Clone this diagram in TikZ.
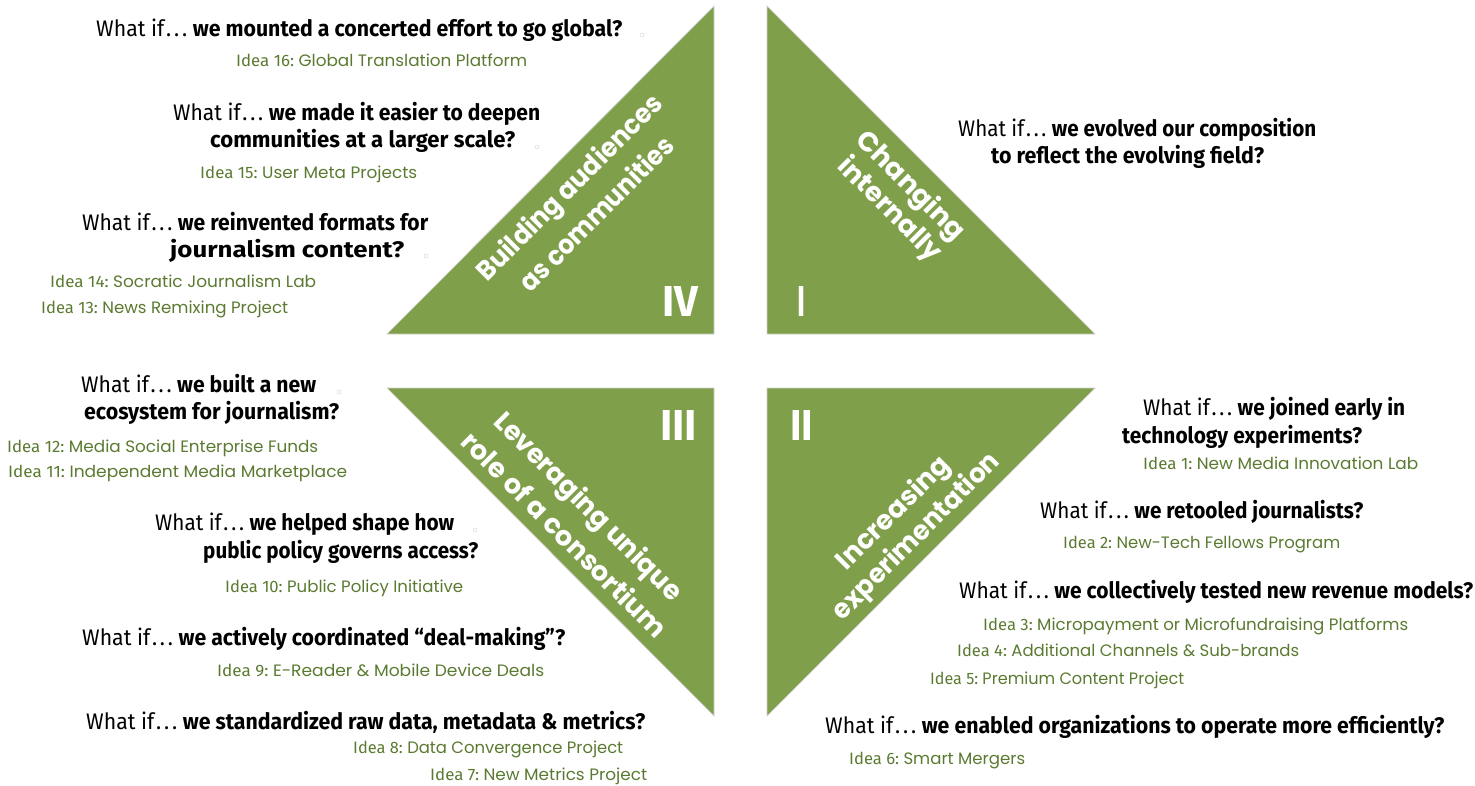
\documentclass[tikz,border=0pt]{standalone}
\usepackage{fontspec}
\usepackage{graphicx}
\setmainfont{Fira Sans}
\newfontfamily\gfont{Poppins}
\newfontfamily\condf{Fira Sans}
\definecolor{tri}{HTML}{7F9F4A}
\definecolor{idea}{HTML}{5B7A31}
\newcommand\wif{What if\kern2pt.\kern3pt.\kern3pt.\ }
% question line: name, x, baseline y, width, text
\newcommand\QL[5]{\node[qtxt] (#1) at (#2,#3) {\resizebox{#4pt}{\height}{#5}};}
% idea line: name, x, baseline y, width, number, text
\newcommand\IL[6]{\node[itxt] (#1) at (#2,#3) {\resizebox{#4pt}{\height}{{\condf Idea #5:}\ {\gfont #6}}};}
% label line: name, x, y, width, angle, text
\newcommand\LL[6]{\node[ltxt,rotate=#5] (#1) at (#2,#3) {\resizebox{#4pt}{\height}{#6}};}
\begin{document}
\begin{tikzpicture}[x=1pt,y=-1pt,
  trist/.style={fill=tri,draw=gray!35,line width=0.7pt},
  qtxt/.style={anchor=base west,inner sep=0pt,font=\fontsize{22.5}{27}\selectfont,text=black},
  itxt/.style={anchor=base west,inner sep=0pt,font=\fontsize{16.5}{19}\selectfont,text=idea},
  ltxt/.style={anchor=center,inner sep=0pt,font=\fontsize{27}{28}\selectfont\gfont\bfseries,text=white},
  numtxt/.style={anchor=south west,inner sep=0pt,font=\fontsize{30}{30}\selectfont\bfseries,text=white},
  dotc/.style={circle,draw=gray!45,line width=0.3pt,minimum size=4pt,inner sep=0pt}]
\useasboundingbox (0,0) rectangle (1475,786);
% triangles
\path[trist] (387,334) -- (714,6) -- (714,334) -- cycle;
\path[trist] (767,6) -- (767,334) -- (1095,334) -- cycle;
\path[trist] (387,388) -- (714,388) -- (714,716) -- cycle;
\path[trist] (767,388) -- (1095,388) -- (767,716) -- cycle;
% numerals
\node[numtxt] (nIV) at (662,317) {\resizebox{36pt}{30pt}{IV}};
\node[numtxt] (nI) at (797,317) {\resizebox{8pt}{30pt}{I}};
\node[numtxt] (nIII) at (660,441) {\resizebox{37pt}{30pt}{III}};
\node[numtxt] (nII) at (790,441) {\resizebox{23pt}{30pt}{II}};
% triangle labels
\LL{lIVa}{571}{189}{250}{45}{Building audiences}
\LL{lIVb}{596}{213}{206}{45}{as communities}
\LL{lIa}{910}{187}{142}{-45}{Changing}
\LL{lIb}{889}{210}{135}{-45}{internally}
\LL{lIIIa}{587}{508}{254}{-45}{Leveraging unique}
\LL{lIIIb}{565}{534}{278}{-45}{role of a consortium}
\LL{lIIa}{894}{514}{148}{45}{Increasing}
\LL{lIIb}{917}{537}{224}{45}{experimentation}
% top-left quadrant
\QL{q16}{96}{37}{526}{\wif{\bfseries we mounted a concerted effort to go global?}}
\IL{i16}{236}{67}{291}{16}{Global Translation Platform}
\QL{q15a}{173}{121}{367}{\wif{\bfseries we made it easier to deepen}}
\QL{q15b}{210}{148}{305}{\bfseries communities at a larger scale?}
\IL{i15}{200}{179}{217}{15}{User Meta Projects}
\QL{q14a}{82}{231}{346}{\wif{\bfseries we reinvented formats for}}
\QL{q14b}{170}{258}{234}{\bfseries journalism content?}
\IL{i14}{50}{288}{266}{14}{Socratic Journalism Lab}
\IL{i13}{41}{314}{247}{13}{News Remixing Project}
% top-right quadrant
\QL{qIa}{958}{137}{358}{\wif{\bfseries we evolved our composition}}
\QL{qIb}{991}{164}{273}{\bfseries to reflect the evolving field?}
% bottom-left quadrant
\QL{q12a}{81}{392}{235}{\wif{\bfseries we built a new}}
\QL{q12b}{84}{419}{255}{\bfseries ecosystem for journalism?}
\IL{i12}{7}{452}{311}{12}{Media Social Enterprise Funds}
\IL{i11}{8}{477}{339}{11}{Independent Media Marketplace}
\QL{q10a}{155}{530}{299}{\wif{\bfseries we helped shape how}}
\QL{q10b}{203}{558}{275}{\bfseries public policy governs access?}
\IL{i10}{225}{592}{238}{10}{Public Policy Initiative}
\QL{q9}{82}{645}{483}{\wif{\bfseries we actively coordinated “deal-making”?}}
\IL{i9}{217}{676}{327}{9}{E-Reader \& Mobile Device Deals}
\QL{q8}{86}{729}{559}{\wif{\bfseries we standardized raw data, metadata \& metrics?}}
\IL{i8}{353}{753}{270}{8}{Data Convergence Project}
\IL{i7}{430}{780}{217}{7}{New Metrics Project}
% bottom-right quadrant
\QL{q1a}{1143}{415}{262}{\wif{\bfseries we joined early in}}
\QL{q1b}{1122}{443}{240}{\bfseries technology experiments?}
\IL{i1}{1143}{469}{275}{1}{New Media Innovation Lab}
\QL{q2}{1040}{518}{323}{\wif{\bfseries we retooled journalists?}}
\IL{i2}{1063}{548}{277}{2}{New-Tech Fellows Program}
\QL{q3}{959}{598}{514}{\wif{\bfseries we collectively tested new revenue models?}}
\IL{i3}{983}{630}{425}{3}{Micropayment or Microfundraising Platforms}
\IL{i4}{957}{656}{342}{4}{Additional Channels \& Sub-brands}
\IL{i5}{930}{684}{254}{5}{Premium Content Project}
\QL{q6}{825}{733}{619}{\wif{\bfseries we enabled organizations to operate more efficiently?}}
\IL{i6}{849}{764}{176}{6}{Smart Mergers}
% small handle circles
\node[dotc] (c1) at (642,35) {};
\node[dotc] (c2) at (537,147) {};
\node[dotc] (c3) at (426,256) {};
\node[dotc] (c4) at (339,392) {};
\node[dotc] (c5) at (475,530) {};
\end{tikzpicture}
\end{document}
